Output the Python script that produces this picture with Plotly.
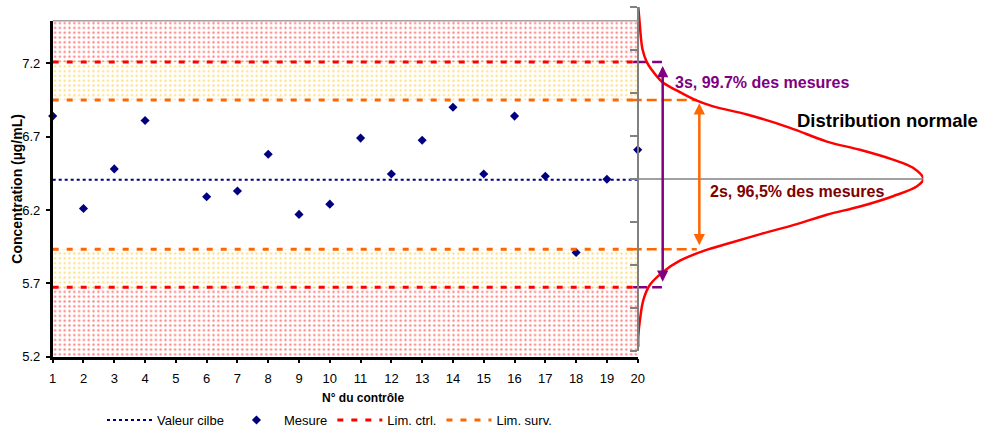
import plotly.graph_objects as go

W, H = 984, 429
FONT = "Liberation Sans"

# ---------------- data ----------------
control_no = list(range(1, 21))
measures = [6.84, 6.21, 6.48, 6.81, None, 6.29, 6.33, 6.58, 6.17, 6.24,
            6.69, 6.445, 6.675, 6.90, 6.445, 6.84, 6.43, 5.91, 6.41, 6.61]
target_value = 6.407
ctrl_limits = [5.673, 7.209]
surv_limits = [5.932, 6.95]
y_axis_min, y_axis_max = 5.2, 7.4904
y_ticks = [5.2, 5.7, 6.2, 6.7, 7.2]

# normal distribution drawn sideways: position in sigma units, relative density
curve_z = [4.0, 3.70, 3.24, 3.01, 2.73, 2.54, 2.26, 2.08, 1.84, 1.69, 1.50, 1.19,
           0.87, 0.68, 0.45, 0.26, 0.0, -0.17, -0.40, -0.64, -0.83, -1.06, -1.27,
           -1.49, -1.66, -1.90, -2.16, -2.46, -2.81, -3.27, -3.67, -3.90]
curve_density = [0.001, 0.005, 0.011, 0.016, 0.030, 0.048, 0.084, 0.130, 0.200, 0.263,
                 0.382, 0.533, 0.662, 0.778, 0.894, 0.964, 1.0, 0.978, 0.894, 0.778,
                 0.662, 0.550, 0.435, 0.322, 0.235, 0.147, 0.088, 0.042, 0.019, 0.007,
                 0.001, 0.001]
sigma_ticks = [-4, -3, -2, -1, 0, 1, 2, 3, 4]

# guide segments and arrows in the distribution panel (density units / concentration)
guide_3s_density = [-0.017, 0.084]
guide_2s_density = [-0.022, 0.206]
arrow_3s = dict(density=0.0866, low=5.700, high=7.182)
arrow_2s = dict(density=0.215, low=5.950, high=6.927)

legend_names = ["Valeur cilbe", "Mesure", "Lim. ctrl.", "Lim. surv."]

NAVY = "#000080"
RED = "#FF0000"
ORANGE = "#FF6600"
PURPLE = "#800080"
DARKRED = "#800000"
GREY = "#808080"


def px_x(v):
    return v / W


def px_y(v):
    return 1 - v / H


fig = go.Figure()

x0, x1 = control_no[0], control_no[-1]
# patterned bands
bands = [
    (ctrl_limits[1], y_axis_max, "#FF0000"),
    (surv_limits[1], ctrl_limits[1], "#FFC000"),
    (ctrl_limits[0], surv_limits[0], "#FFC000"),
    (y_axis_min, ctrl_limits[0], "#FF0000"),
]
for lo, hi, col in bands:
    fig.add_trace(go.Scatter(
        x=[x0, x1, x1, x0, x0], y=[lo, lo, hi, hi, lo], mode="none",
        fill="toself", fillcolor="white",
        fillpattern=dict(shape=".", fgcolor=col, bgcolor="white", size=4.8, solidity=0.18),
        showlegend=False, hoverinfo="skip", xaxis="x", yaxis="y"))

fig.add_trace(go.Scatter(
    x=[x0, x1], y=[target_value, target_value], mode="lines", name=legend_names[0],
    line=dict(color=NAVY, width=2, dash="3px,3px")))
fig.add_trace(go.Scatter(
    x=control_no, y=measures, mode="markers", name=legend_names[1], cliponaxis=False,
    marker=dict(symbol="diamond", size=7, color=NAVY)))
fig.add_trace(go.Scatter(
    x=[x0, x1, None, x0, x1],
    y=[ctrl_limits[1], ctrl_limits[1], None, ctrl_limits[0], ctrl_limits[0]],
    mode="lines", name=legend_names[2], line=dict(color=RED, width=3, dash="6px,8px")))
fig.add_trace(go.Scatter(
    x=[x0, x1, None, x0, x1],
    y=[surv_limits[1], surv_limits[1], None, surv_limits[0], surv_limits[0]],
    mode="lines", name=legend_names[3], line=dict(color=ORANGE, width=3, dash="6px,8px")))

# distribution panel
fig.add_trace(go.Scatter(
    x=curve_density, y=curve_z, mode="lines", line=dict(color=RED, width=2.5, shape="spline"),
    xaxis="x2", yaxis="y2", showlegend=False, hoverinfo="skip"))
for lv in ctrl_limits:
    fig.add_trace(go.Scatter(
        x=guide_3s_density, y=[lv, lv], mode="lines", xaxis="x2", yaxis="y",
        line=dict(color=PURPLE, width=2.5, dash="14px,5px"), showlegend=False, hoverinfo="skip"))
for lv in surv_limits:
    fig.add_trace(go.Scatter(
        x=guide_2s_density, y=[lv, lv], mode="lines", xaxis="x2", yaxis="y",
        line=dict(color=ORANGE, width=2.5, dash="10px,5px"), showlegend=False, hoverinfo="skip"))

annotations = []
for arr, col in [(arrow_3s, PURPLE), (arrow_2s, ORANGE)]:
    annotations.append(dict(
        xref="x2", yref="y", axref="x2", ayref="y",
        x=arr["density"], y=arr["high"], ax=arr["density"], ay=arr["low"],
        text="", showarrow=True, arrowhead=2, arrowside="end+start",
        arrowsize=0.9, arrowwidth=2.5, arrowcolor=col, standoff=0, startstandoff=0))

annotations += [
    dict(xref="paper", yref="paper", x=px_x(362.5), y=px_y(397.7), xanchor="center", yanchor="middle",
         text="<b>N° du contrôle</b>", showarrow=False, font=dict(family=FONT, size=12, color="black")),
    dict(xref="paper", yref="paper", x=px_x(16.7), y=px_y(189), xanchor="center", yanchor="middle",
         text="<b>Concentration (µg/mL)</b>", textangle=-90, showarrow=False,
         font=dict(family=FONT, size=14, color="black")),
    dict(xref="paper", yref="paper", x=px_x(761.7), y=px_y(82.7), xanchor="center", yanchor="middle",
         text="<b>3s, 99.7% des mesures</b>", showarrow=False, font=dict(family=FONT, size=16, color=PURPLE)),
    dict(xref="paper", yref="paper", x=px_x(887), y=px_y(120), xanchor="center", yanchor="middle",
         text="<b>Distribution normale</b>", showarrow=False, font=dict(family=FONT, size=18.5, color="black")),
    dict(xref="paper", yref="paper", x=px_x(796.7), y=px_y(191.7), xanchor="center", yanchor="middle",
         text="<b>2s, 96,5% des mesures</b>", showarrow=False, font=dict(family=FONT, size=16, color=DARKRED)),
]

shapes = [
    dict(type="line", xref="x domain", yref="y domain", x0=0, x1=1, y0=1, y1=1,
         line=dict(color="#A0A0A0", width=1.5)),
    dict(type="line", xref="x2", yref="y2", x0=0, x1=max(curve_density), y0=0, y1=0,
         line=dict(color=GREY, width=1.5)),
]

fig.update_layout(
    width=W, height=H, autosize=False,
    margin=dict(l=0, r=0, t=0, b=0, autoexpand=False),
    paper_bgcolor="white", plot_bgcolor="rgba(0,0,0,0)",
    font=dict(family=FONT, size=13, color="black"),
    showlegend=True,
    legend=dict(orientation="h", x=px_x(102), xanchor="left", y=px_y(420), yanchor="middle",
                font=dict(family=FONT, size=13), bgcolor="rgba(0,0,0,0)", itemwidth=45,
                tracegroupgap=0),
    xaxis=dict(domain=[px_x(52.7), px_x(637.7)], range=[x0, x1], tickvals=control_no,
               ticks="outside", ticklen=4, tickwidth=2, tickcolor="black", automargin=False,
               showline=True, linecolor="black", linewidth=2.5, showgrid=False, zeroline=False,
               tickfont=dict(family=FONT, size=13), anchor="y", ticklabelstandoff=4),
    yaxis=dict(domain=[px_y(356.7), px_y(20.7)], range=[y_axis_min, y_axis_max], tickvals=y_ticks,
               ticktext=[f"{v:.1f}" for v in y_ticks], automargin=False,
               ticks="outside", ticklen=4, tickwidth=2, tickcolor="black",
               showline=True, linecolor="black", linewidth=2.5, showgrid=False, zeroline=False,
               tickfont=dict(family=FONT, size=13), anchor="x", ticklabelstandoff=3),
    xaxis2=dict(domain=[px_x(628), px_x(923.3)], range=[-0.035, 1.0], visible=False,
                anchor="y2", automargin=False),
    yaxis2=dict(domain=[px_y(351), px_y(7)], range=[-4, 4], anchor="free", position=px_x(638),
                side="left", showline=True, linecolor=GREY, linewidth=2, ticks="outside",
                ticklen=7, tickcolor=GREY, tickwidth=1.5, tickvals=sigma_ticks, automargin=False,
                showticklabels=False, showgrid=False, zeroline=False),
    annotations=annotations,
    shapes=shapes,
)

fig.write_html("out.html", config={"displayModeBar": False},
               post_script="document.body.style.margin='0px';document.body.style.padding='0px';")
